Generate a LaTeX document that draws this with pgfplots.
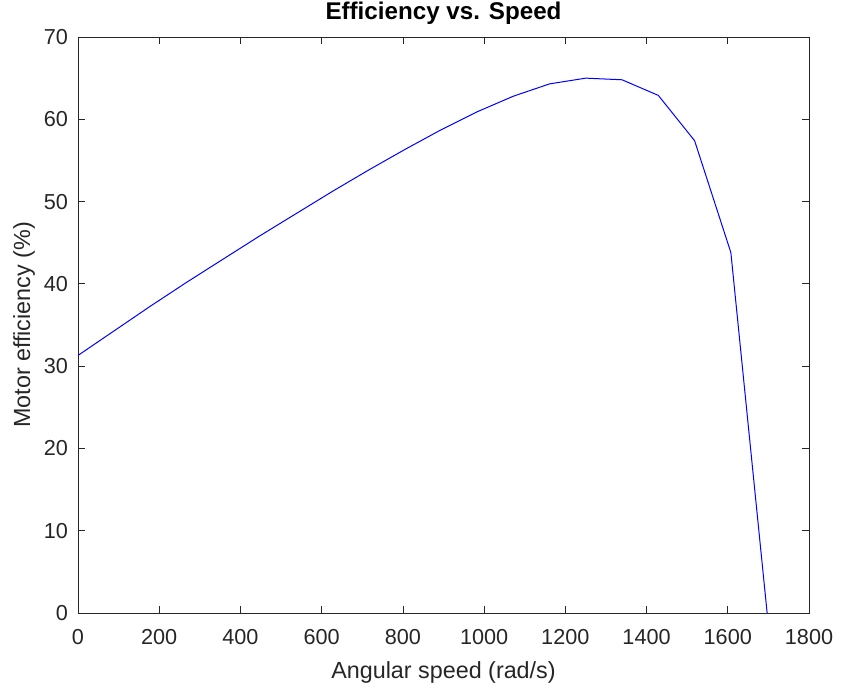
\documentclass[border=0pt]{standalone}
\usepackage{pgfplots}
\pgfplotsset{compat=1.18}
\usepackage{fontspec}
\setmainfont{Liberation Sans}
\definecolor{axgray}{RGB}{38,38,38}
\begin{document}
\begin{tikzpicture}
\useasboundingbox (0,0) rectangle (505.8pt,415.2pt);
\begin{axis}[
  at={(46.8pt,47.4pt)}, anchor=south west,
  scale only axis, width=438.6pt, height=345.6pt,
  xmin=0, xmax=1800, ymin=0, ymax=70,
  xtick={0,200,...,1800}, ytick={0,10,...,70},
  tick align=inside, major tick length=4.2pt,
  axis line style={axgray, line width=0.45pt},
  every tick/.style={axgray, line width=0.45pt},
  tick label style={font=\fontsize{13}{15}\selectfont, text=axgray},
  xticklabel style={yshift=-6pt},
  yticklabel style={xshift=-2.5pt},
  /pgf/number format/assume math mode=true,
  /pgf/number format/1000 sep={},
  scaled ticks=false,
  clip=false,
  xlabel={Angular speed (rad/s)},
  ylabel={Motor efficiency (\%)},
  label style={font=\fontsize{14}{16}\selectfont, text=axgray},
  xlabel style={at={(axis description cs:0.5,-0.1024)}, anchor=center},
  ylabel style={at={(axis description cs:-0.0739,0.5)}, anchor=center},
]
\addplot[color={rgb,255:red,0;green,0;blue,255}, line width=0.6pt] coordinates {
(0,31.3) (89.3,34.3) (178.6,37.3) (267.9,40.2) (357.2,43.0) (446.6,45.8)
(535.9,48.5) (625.2,51.2) (714.5,53.8) (803.8,56.3) (893.1,58.7) (982.4,60.9)
(1071.7,62.8) (1161.0,64.3) (1250.3,65.0) (1339.6,64.8) (1429.0,62.9)
(1518.3,57.4) (1607.6,43.8) (1696.9,0)
};
\node[font=\fontsize{14.5}{16}\selectfont\bfseries, text=black, anchor=center] at (axis description cs:0.5,1.0417) {Efficiency vs. Speed};
\end{axis}
\end{tikzpicture}
\end{document}
